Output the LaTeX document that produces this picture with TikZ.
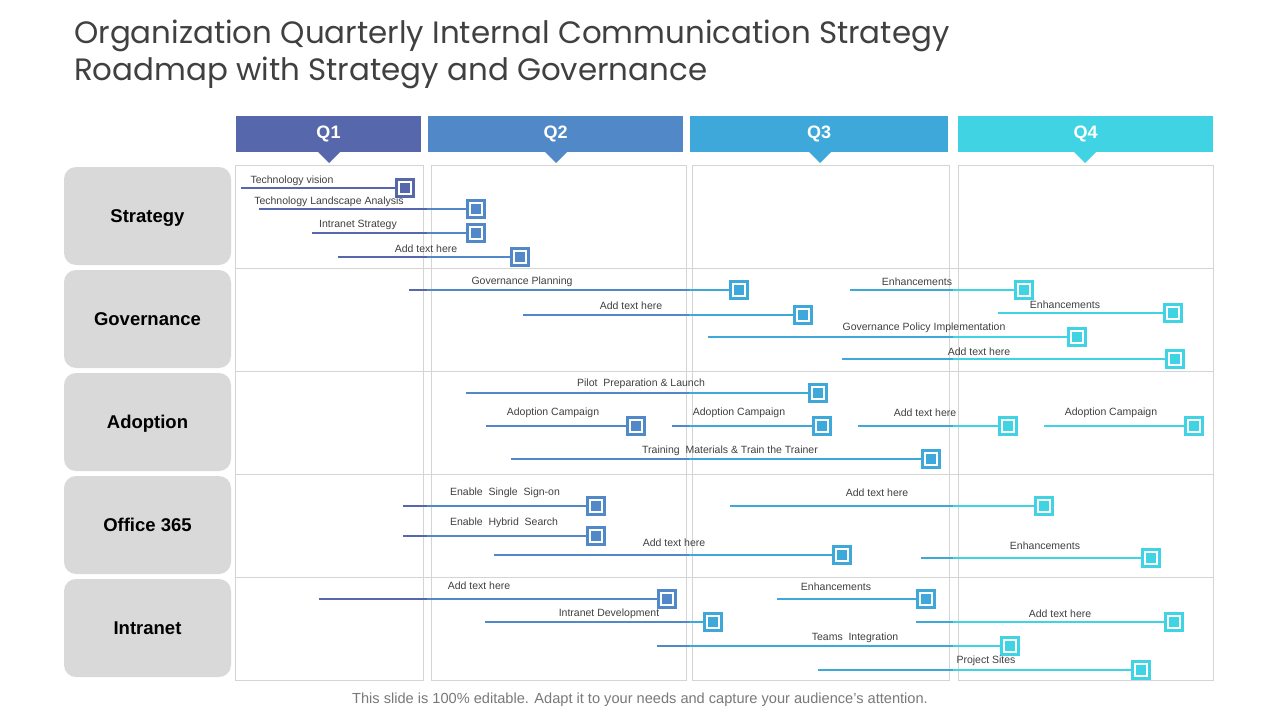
\documentclass[tikz,border=0pt]{standalone}
\usepackage{fontspec}
\setmainfont{Liberation Sans}
\newfontfamily\titlefont{Poppins}
\definecolor{qa}{HTML}{5767AB}
\definecolor{qb}{HTML}{5088C8}
\definecolor{qc}{HTML}{3FA8DB}
\definecolor{qd}{HTML}{3FD3E4}
\definecolor{panel}{HTML}{D4D4D4}
\definecolor{rowgray}{HTML}{D9D9D9}
\definecolor{txt}{HTML}{404040}
\tikzset{
  panelbox/.style={draw=panel, line width=1pt},
  qhead/.style={fill=#1, draw=none, inner sep=0pt, text=white, font=\bfseries\fontsize{18}{20}\selectfont},
  rowlab/.style={fill=rowgray, draw=none, rounded corners=12pt, minimum width=167pt, minimum height=98pt, inner sep=0pt, text height=13pt, text depth=0pt, font=\bfseries\fontsize{18.5}{20}\selectfont, text=black},
  taskline/.style={line width=2pt},
  tasklabel/.style={font=\fontsize{10.5}{12}\selectfont, text=txt, inner sep=0pt, yshift=-1.5pt},
  marker/.style={draw=#1, line width=2.6pt, fill=white, minimum size=17pt, inner sep=0pt,
    path picture={\fill[#1] ([xshift=-4.6pt,yshift=-4.6pt]path picture bounding box.center) rectangle ([xshift=4.6pt,yshift=4.6pt]path picture bounding box.center);}},
}
% #1 name, #2 x start, #3 x end, #4 y, #5 label, #6 label x, #7 label y, #8 colour
\newcommand\task[8]{%
  \coordinate (#1s) at (#2,#4);
  \node[marker=#8] (#1) at (#3,#4) {};
  \foreach \col/\xa/\xb in {qa/0/427,qb/427/689,qc/689/953,qd/953/1280}{%
    \begin{scope}
      \clip (\xa,0) rectangle (\xb,720);
      \draw[taskline,\col] (#1s) -- (#1.west);
    \end{scope}
  }%
  \node[tasklabel] (#1l) at (#6,#7) {#5};
}
\begin{document}
\begin{tikzpicture}[x=1pt,y=-1pt]
\useasboundingbox (0,0) rectangle (1280,720);
\fill[white] (0,0) rectangle (1280,720);

% title
\node[anchor=north west, align=left, inner sep=0pt, text=txt, font=\titlefont\fontsize{30.9}{37}\selectfont] (title) at (74,20)
  {Organization Quarterly Internal Communication Strategy\\Roadmap with Strategy and Governance};

% panels
\draw[panelbox] (235,165) rectangle (423,680);
\draw[panelbox] (431,165) rectangle (686,680);
\draw[panelbox] (692,165) rectangle (949,680);
\draw[panelbox] (958,165) rectangle (1213,680);
\foreach \yy in {268,371,474,577}{\draw[panelbox] (235,\yy) -- (1213,\yy);}

% headers
\fill[qa] (317,151) -- (341,151) -- (329,163) -- cycle;
\fill[qb] (544,151) -- (568,151) -- (556,163) -- cycle;
\fill[qc] (808,151) -- (832,151) -- (820,163) -- cycle;
\fill[qd] (1073,151) -- (1097,151) -- (1085,163) -- cycle;
\node[qhead=qa, minimum width=185pt, minimum height=36pt] (q1) at (328.5,134) {Q1};
\node[qhead=qb, minimum width=255pt, minimum height=36pt] (q2) at (555.5,134) {Q2};
\node[qhead=qc, minimum width=258pt, minimum height=36pt] (q3) at (819,134) {Q3};
\node[qhead=qd, minimum width=255pt, minimum height=36pt] (q4) at (1085.5,134) {Q4};

% row labels
\node[rowlab] (r1) at (147.5,216) {Strategy};
\node[rowlab] (r2) at (147.5,319) {Governance};
\node[rowlab] (r3) at (147.5,422) {Adoption};
\node[rowlab] (r4) at (147.5,525) {Office 365};
\node[rowlab] (r5) at (147.5,628) {Intranet};

% Strategy
\task{s1}{241}{405}{188}{Technology vision}{292}{179}{qa}
\task{s2}{259}{476}{209}{Technology Landscape Analysis}{329}{200}{qb}
\task{s3}{312}{476}{233}{Intranet Strategy}{358}{223}{qb}
\task{s4}{338}{520}{257}{Add text here}{426}{247}{qb}

% Governance
\task{g1}{409}{739}{290}{Governance Planning}{522}{280}{qc}
\task{g2}{523}{803}{315}{Add text here}{631}{304}{qc}
\task{g3}{850}{1024}{290}{Enhancements}{917}{280}{qd}
\task{g4}{998}{1173}{313}{Enhancements}{1065}{303}{qd}
\task{g5}{708}{1077}{337}{Governance Policy Implementation}{924}{326}{qd}
\task{g6}{842}{1175}{359}{Add text here}{979}{350}{qd}

% Adoption
\task{a1}{466}{818}{393}{Pilot\ \ Preparation \& Launch}{641}{382}{qc}
\task{a2}{486}{636}{426}{Adoption Campaign}{553}{411}{qb}
\task{a3}{672}{822}{426}{Adoption Campaign}{739}{411}{qc}
\task{a4}{858}{1008}{426}{Add text here}{925}{411}{qd}
\task{a5}{1044}{1194}{426}{Adoption Campaign}{1111}{411}{qd}
\task{a6}{511}{931}{459}{Training\ \ Materials \& Train the Trainer}{730}{449}{qc}

% Office 365
\task{o1}{403}{596}{506}{Enable\ \ Single\ \ Sign-on}{505}{491}{qb}
\task{o2}{403}{596}{536}{Enable\ \ Hybrid\ \ Search}{504}{521}{qb}
\task{o3}{494}{842}{555}{Add text here}{674}{541}{qc}
\task{o4}{730}{1044}{506}{Add text here}{877}{491}{qd}
\task{o5}{921}{1151}{558}{Enhancements}{1045}{544}{qd}

% Intranet
\task{i1}{319}{667}{599}{Add text here}{479}{584}{qb}
\task{i2}{485}{713}{622}{Intranet Development}{609}{612}{qc}
\task{i3}{777}{926}{599}{Enhancements}{836}{585}{qc}
\task{i4}{916}{1174}{622}{Add text here}{1060}{612}{qd}
\task{i5}{657}{1010}{646}{Teams\ \ Integration}{855}{636}{qd}
\task{i6}{818}{1141}{670}{Project Sites}{986}{659}{qd}

% footer
\node[font=\fontsize{14.6}{16}\selectfont, text=gray!95!black] (foot) at (640,700)
  {This slide is 100\% editable. Adapt it to your needs and capture your audience’s attention.};
\end{tikzpicture}
\end{document}
